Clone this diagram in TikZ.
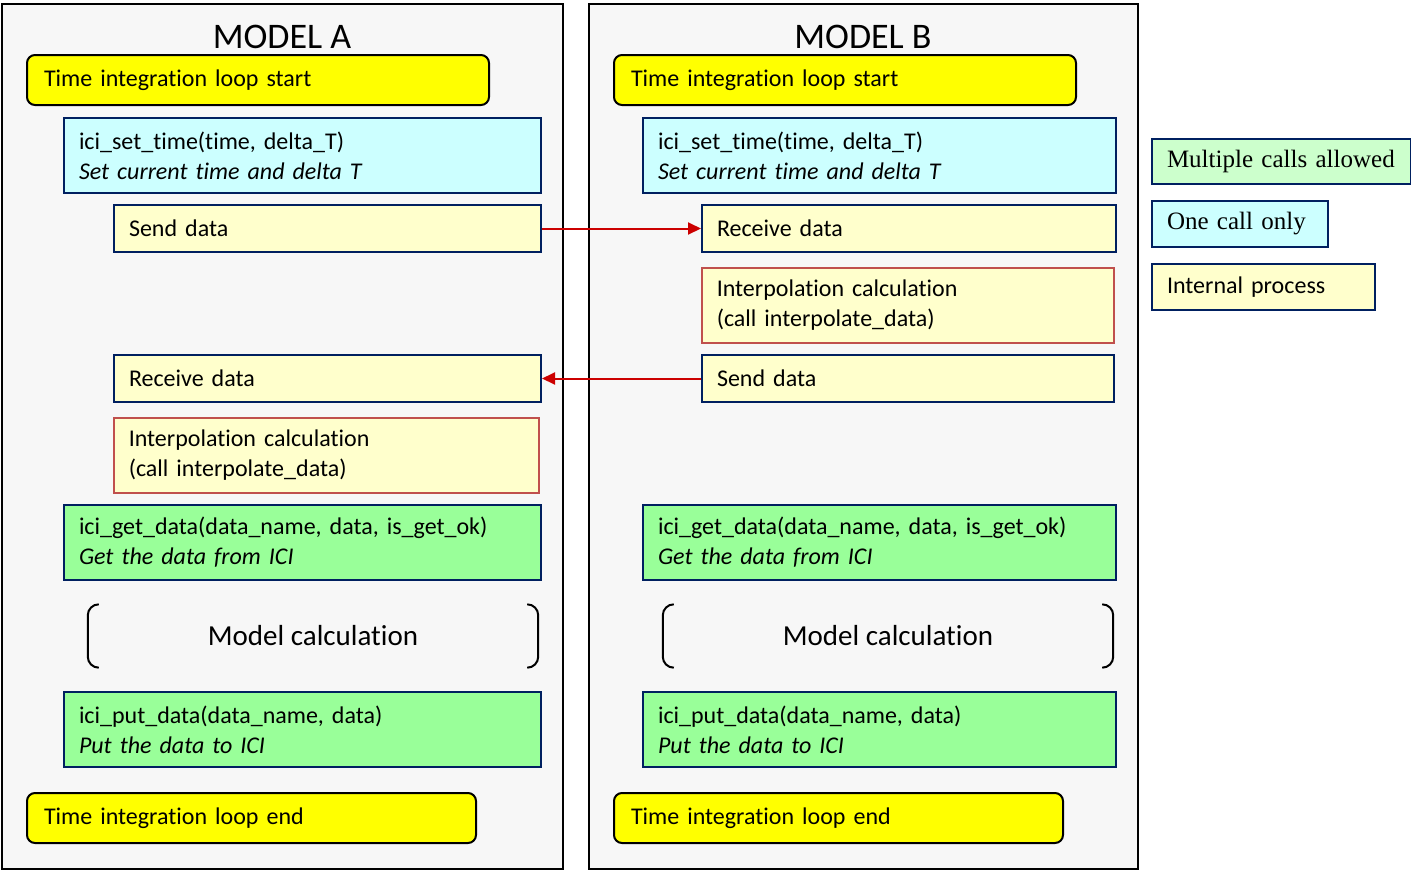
\documentclass[tikz,border=0pt]{standalone}
\usepackage{fontspec}
\setmainfont[Ligatures=NoCommon,RawFeature={-calt;-dlig;-liga}]{Carlito}
\newfontfamily\legendfont{Liberation Serif}
\usetikzlibrary{arrows.meta}

\definecolor{panelgray}{HTML}{F7F7F7}
\definecolor{loopyellow}{HTML}{FFFF00}
\definecolor{oncecyan}{HTML}{CCFFFF}
\definecolor{procyellow}{HTML}{FFFFCC}
\definecolor{multigreen}{HTML}{99FF99}
\definecolor{legendgreen}{HTML}{CCFFCC}
\definecolor{boxnavy}{HTML}{002060}
\definecolor{interpred}{HTML}{C0504D}
\definecolor{msgred}{HTML}{CC0000}

\begin{document}
\begin{tikzpicture}
  [x=1pt,y=-1pt,
   panel/.style={draw=black,line width=2.5pt,fill=panelgray},
   title/.style={anchor=base,font=\fontsize{36}{40}\selectfont},
   loopbox/.style={draw=black,line width=2pt,fill=loopyellow,rounded corners=8pt,
     anchor=north west,align=left,inner xsep=17pt,minimum height=50pt,
     font=\fontsize{24}{30}\selectfont},
   callbox/.style={draw=boxnavy,line width=2pt,anchor=north west,align=left,
     inner xsep=15pt,minimum height=75pt,font=\fontsize{24}{30}\selectfont},
   procbox/.style={draw=boxnavy,line width=2pt,fill=procyellow,anchor=north west,
     align=left,inner xsep=15pt,minimum height=47pt,font=\fontsize{24}{30}\selectfont},
   interpbox/.style={procbox,draw=interpred,line width=1.5pt,minimum height=75pt},
   calc/.style={minimum height=63pt,inner sep=0pt,font=\fontsize{29}{34}\selectfont},
   bracket/.style={draw=black,line width=2pt,rounded corners=11pt},
   legendbox/.style={procbox,minimum height=45pt},
   msg/.style={draw=msgred,line width=2pt,-{Triangle[length=13pt,width=12pt]}}]
  \useasboundingbox (0,0) rectangle (1411,871);

  % model A
  \draw[panel] (2,4) rectangle (563,869);
  \node[title] (titleA) at (282,48) {MODEL A};
  \node[loopbox,text width=428pt] (startA) at (26,54) {Time integration loop start};
  \node[callbox,fill=oncecyan,text width=447pt] (setA) at (63,117)
    {ici\_set\_time(time, delta\_T)\\\textit{Set current time and delta T}};
  \node[procbox,text width=397pt] (sendA) at (113,204) {Send data};
  \node[procbox,text width=397pt] (recvA) at (113,354) {Receive data};
  \node[interpbox,text width=395pt] (interpA) at (113,417)
    {Interpolation calculation\\(call interpolate\_data)};
  \node[callbox,fill=multigreen,text width=447pt] (getA) at (63,504)
    {ici\_get\_data(data\_name, data, is\_get\_ok)\\\textit{Get the data from ICI}};
  \node[calc,minimum width=450pt] (calcA) at (313,636) {Model calculation};
  \node[callbox,fill=multigreen,text width=447pt] (putA) at (63,691)
    {ici\_put\_data(data\_name, data)\\\textit{Put the data to ICI}};
  \node[loopbox,text width=415pt] (endA) at (26,792) {Time integration loop end};

  % model B
  \draw[panel] (589,4) rectangle (1138,869);
  \node[title] (titleB) at (863,48) {MODEL B};
  \node[loopbox,text width=428pt] (startB) at (613,54) {Time integration loop start};
  \node[callbox,fill=oncecyan,text width=443pt] (setB) at (642,117)
    {ici\_set\_time(time, delta\_T)\\\textit{Set current time and delta T}};
  \node[procbox,text width=384pt] (recvB) at (701,204) {Receive data};
  \node[interpbox,text width=382pt] (interpB) at (701,267)
    {Interpolation calculation\\(call interpolate\_data)};
  \node[procbox,text width=382pt] (sendB) at (701,354) {Send data};
  \node[callbox,fill=multigreen,text width=443pt] (getB) at (642,504)
    {ici\_get\_data(data\_name, data, is\_get\_ok)\\\textit{Get the data from ICI}};
  \node[calc,minimum width=450pt] (calcB) at (888,636) {Model calculation};
  \node[callbox,fill=multigreen,text width=443pt] (putB) at (642,691)
    {ici\_put\_data(data\_name, data)\\\textit{Put the data to ICI}};
  \node[loopbox,text width=415pt] (endB) at (613,792) {Time integration loop end};

  % brackets round the model calculation
  \foreach \c in {calcA,calcB} {
    \draw[bracket] ([xshift=11pt]\c.north west) -- (\c.north west)
      -- (\c.south west) -- ([xshift=11pt]\c.south west);
    \draw[bracket] ([xshift=-11pt]\c.north east) -- (\c.north east)
      -- (\c.south east) -- ([xshift=-11pt]\c.south east);
  }

  % data exchange
  \draw[msg] (sendA.east) -- (recvB.west);
  \draw[msg] (sendB.west) -- (recvA.east);

  % legend
  \node[legendbox,fill=legendgreen,text width=229pt,font=\legendfont\fontsize{25}{32}\selectfont]
    (multi) at (1151,138) {Multiple calls allowed};
  \node[legendbox,fill=oncecyan,text width=146pt,minimum height=46pt,font=\legendfont\fontsize{25}{32}\selectfont]
    (once) at (1151,200) {One call only};
  \node[legendbox,text width=193pt,minimum height=46pt] (internal) at (1151,263) {Internal process};
\end{tikzpicture}
\end{document}
